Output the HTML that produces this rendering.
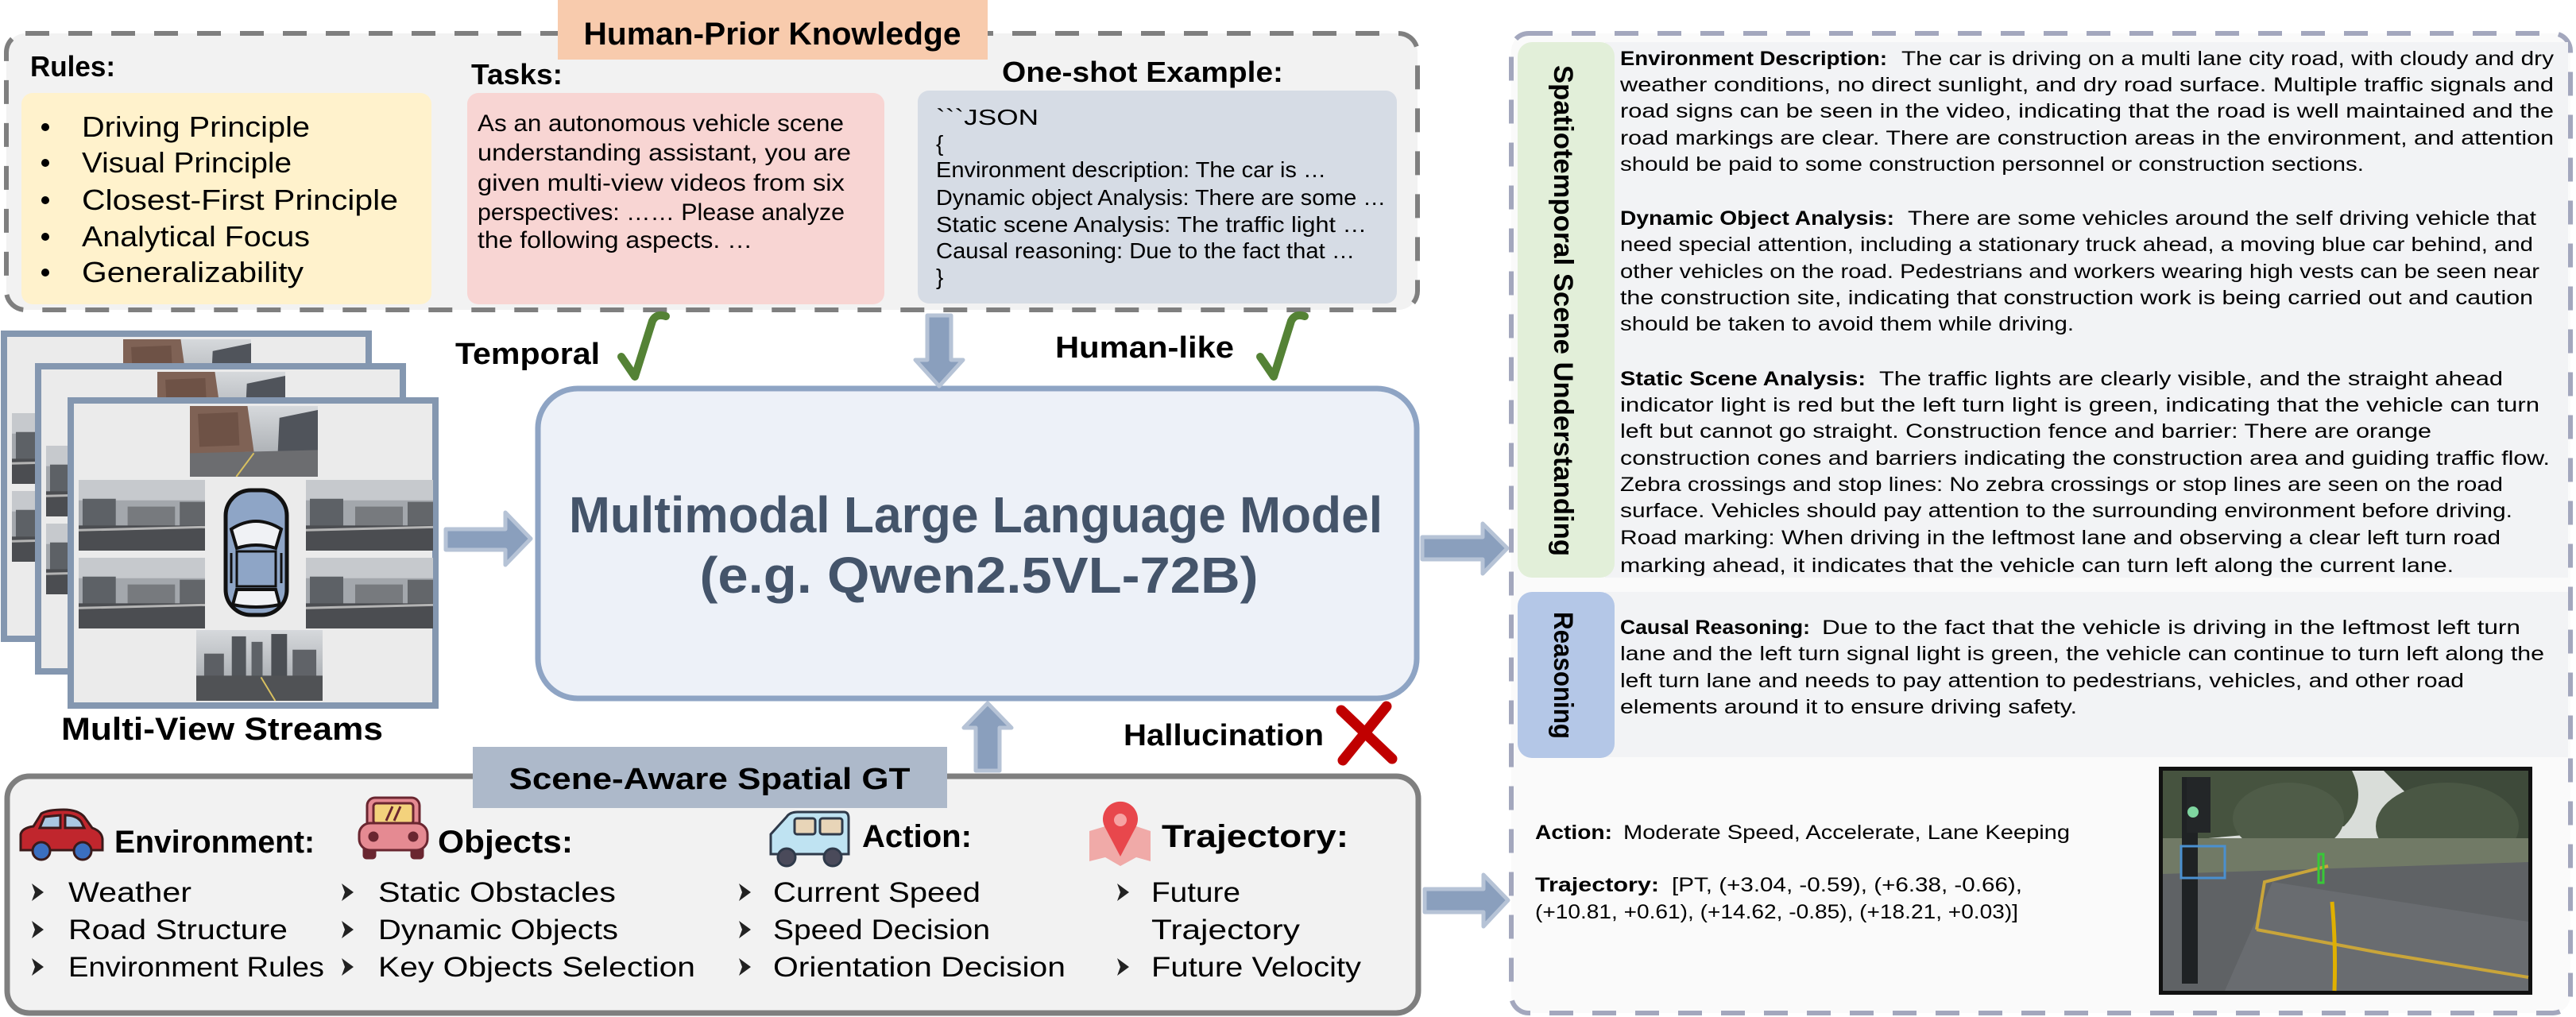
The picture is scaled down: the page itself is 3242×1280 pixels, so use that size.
<!DOCTYPE html>
<html><head><meta charset="utf-8">
<style>
html,body{margin:0;padding:0;background:#fff;}
svg{display:block;}
text{font-family:"Liberation Sans","DejaVu Sans",sans-serif;fill:#000;}
.b{font-weight:bold;}
</style></head><body>
<svg width="3242" height="1280" viewBox="0 0 3242 1280" xmlns="http://www.w3.org/2000/svg">
<defs>
  <linearGradient id="sky" x1="0" y1="0" x2="0" y2="1">
    <stop offset="0" stop-color="#d6d9dc"/><stop offset="1" stop-color="#9a9ea3"/>
  </linearGradient>
  <symbol id="p1" viewBox="0 0 160 90" preserveAspectRatio="none">
    <rect width="160" height="90" fill="url(#sky)"/>
    <polygon points="0,0 72,0 80,58 0,62" fill="#7f6255"/>
    <polygon points="10,10 60,8 62,50 12,52" fill="#6e5246"/>
    <polygon points="112,15 160,5 160,60 110,58" fill="#50545b"/>
    <polygon points="0,60 160,56 160,90 0,90" fill="#6c6d70"/>
    <polyline points="80,60 58,90" stroke="#d8c060" stroke-width="2" fill="none"/>
  </symbol>
  <symbol id="p2" viewBox="0 0 160 90" preserveAspectRatio="none">
    <rect width="160" height="90" fill="#a3a7ac"/>
    <rect width="160" height="26" fill="#c6c9cd"/>
    <rect x="5" y="24" width="42" height="36" fill="#5d6166"/>
    <rect x="62" y="34" width="60" height="26" fill="#777a7e"/>
    <rect x="128" y="28" width="32" height="32" fill="#63666a"/>
    <rect y="58" width="160" height="32" fill="#4b4d51"/>
    <line x1="0" y1="64" x2="160" y2="60" stroke="#b4b4b4" stroke-width="3"/>
  </symbol>
  <symbol id="p3" viewBox="0 0 160 90" preserveAspectRatio="none">
    <rect width="160" height="90" fill="url(#sky)"/>
    <rect x="10" y="30" width="25" height="30" fill="#5c5f64"/>
    <rect x="45" y="8" width="18" height="52" fill="#51555a"/>
    <rect x="70" y="15" width="14" height="45" fill="#5e6267"/>
    <rect x="95" y="5" width="20" height="55" fill="#4b4f54"/>
    <rect x="122" y="25" width="30" height="35" fill="#606368"/>
    <polygon points="0,58 160,58 160,90 0,90" fill="#505255"/>
    <polyline points="82,60 100,90" stroke="#d8c060" stroke-width="2" fill="none"/>
  </symbol>
  <g id="fr">
    <rect x="0" y="0" width="459" height="384" fill="#ebebeb" stroke="#8497b0" stroke-width="8"/>
    <use href="#p1" x="150" y="7" width="161" height="89"/>
    <use href="#p2" x="10" y="100" width="159" height="89"/>
    <use href="#p2" x="10" y="198" width="159" height="89"/>
    <use href="#p2" x="296" y="100" width="160" height="89"/>
    <use href="#p2" x="296" y="198" width="160" height="89"/>
    <use href="#p3" x="158" y="289" width="159" height="89"/>
    <g transform="translate(192,110)">
      <rect x="3" y="3" width="77" height="157" rx="32" fill="#8ea5c6" stroke="#111" stroke-width="5"/>
      <path d="M10,52 Q41,32 73,52 L66,76 Q41,68 17,76 Z" fill="#f0f2f5" stroke="#111" stroke-width="4"/>
      <path d="M17,80 L66,80 L66,124 L17,124 Z" fill="#8ea5c6" stroke="#111" stroke-width="3"/>
      <path d="M17,128 L66,128 L71,147 Q41,153 12,147 Z" fill="#f0f2f5" stroke="#111" stroke-width="4"/>
      <line x1="10" y1="82" x2="10" y2="120" stroke="#111" stroke-width="3"/>
      <line x1="73" y1="82" x2="73" y2="120" stroke="#111" stroke-width="3"/>
    </g>
  </g>
</defs>

<!-- ===== Top box: Human-Prior Knowledge ===== -->
<rect x="8" y="42" width="1776" height="348" rx="24" fill="#f2f2f2" stroke="#7f7f7f" stroke-width="6" stroke-dasharray="30 24"/>
<rect x="702" y="0" width="541" height="75" fill="#f8cbad"/>
<text class="b" x="972" y="56" font-size="40" text-anchor="middle" textLength="475" lengthAdjust="spacingAndGlyphs">Human-Prior Knowledge</text>

<text class="b" x="38" y="96" font-size="36" textLength="107" lengthAdjust="spacingAndGlyphs">Rules:</text>
<text class="b" x="593" y="106" font-size="36" textLength="115" lengthAdjust="spacingAndGlyphs">Tasks:</text>
<text class="b" x="1261" y="103" font-size="36" textLength="354" lengthAdjust="spacingAndGlyphs">One-shot Example:</text>

<rect x="27" y="117" width="516" height="266" rx="14" fill="#fff2cc"/>
<rect x="588" y="117" width="525" height="266" rx="14" fill="#f8d5d3"/>
<rect x="1155" y="114" width="603" height="268" rx="14" fill="#d6dce5"/>

<g font-size="36">
  <circle cx="57" cy="160" r="5"/><text x="103" y="172" textLength="287" lengthAdjust="spacingAndGlyphs">Driving Principle</text>
  <circle cx="57" cy="205" r="5"/><text x="103" y="217" textLength="264" lengthAdjust="spacingAndGlyphs">Visual Principle</text>
  <circle cx="57" cy="252" r="5"/><text x="103" y="264" textLength="398" lengthAdjust="spacingAndGlyphs">Closest-First Principle</text>
  <circle cx="57" cy="298" r="5"/><text x="103" y="310" textLength="287" lengthAdjust="spacingAndGlyphs">Analytical Focus</text>
  <circle cx="57" cy="343" r="5"/><text x="103" y="355" textLength="279" lengthAdjust="spacingAndGlyphs">Generalizability</text>
</g>

<g font-size="30">
  <text x="601" y="165" textLength="461" lengthAdjust="spacingAndGlyphs">As an autonomous vehicle scene</text>
  <text x="601" y="202" textLength="470" lengthAdjust="spacingAndGlyphs">understanding assistant, you are</text>
  <text x="601" y="240" textLength="462" lengthAdjust="spacingAndGlyphs">given multi-view videos from six</text>
  <text x="601" y="277" textLength="462" lengthAdjust="spacingAndGlyphs">perspectives: …… Please analyze</text>
  <text x="601" y="312" textLength="346" lengthAdjust="spacingAndGlyphs">the following aspects. …</text>
</g>

<g font-size="28">
  <text x="1178" y="157" textLength="129" lengthAdjust="spacingAndGlyphs">&#96;&#96;&#96;JSON</text>
  <text x="1178" y="190">{</text>
  <text x="1178" y="223" textLength="491" lengthAdjust="spacingAndGlyphs">Environment description: The car is …</text>
  <text x="1178" y="258" textLength="566" lengthAdjust="spacingAndGlyphs">Dynamic object Analysis: There are some …</text>
  <text x="1178" y="292" textLength="542" lengthAdjust="spacingAndGlyphs">Static scene Analysis: The traffic light …</text>
  <text x="1178" y="325" textLength="527" lengthAdjust="spacingAndGlyphs">Causal reasoning: Due to the fact that …</text>
  <text x="1178" y="358">}</text>
</g>

<!-- ===== Middle ===== -->
<use href="#fr" x="5" y="420"/>
<use href="#fr" x="48" y="461"/>
<use href="#fr" x="89" y="504"/>
<text class="b" x="77" y="931" font-size="40" textLength="405" lengthAdjust="spacingAndGlyphs">Multi-View Streams</text>

<text class="b" x="573" y="458" font-size="38" textLength="182" lengthAdjust="spacingAndGlyphs">Temporal</text>
<path d="M782,449 L799,474 L821,404 Q826,394 838,398" fill="none" stroke="#548235" stroke-width="10" stroke-linecap="round" stroke-linejoin="round"/>
<text class="b" x="1328" y="450" font-size="38" textLength="225" lengthAdjust="spacingAndGlyphs">Human-like</text>
<path d="M1586,449 L1603,474 L1625,404 Q1630,394 1642,398" fill="none" stroke="#548235" stroke-width="10" stroke-linecap="round" stroke-linejoin="round"/>

<rect x="677" y="489" width="1106" height="390" rx="50" fill="#edf1f8" stroke="#8ea4c4" stroke-width="7"/>
<text class="b" x="1228" y="670" font-size="64" style="fill:#44546a" text-anchor="middle" textLength="1024" lengthAdjust="spacingAndGlyphs">Multimodal Large Language Model</text>
<text class="b" x="1232" y="746" font-size="64" style="fill:#44546a" text-anchor="middle" textLength="703" lengthAdjust="spacingAndGlyphs">(e.g. Qwen2.5VL-72B)</text>

<g fill="#8a9fbd" stroke="#b6c3d6" stroke-width="5" stroke-linejoin="round">
  <polygon points="561,666 636,666 636,645 668,678 636,711 636,692 561,692"/>
  <polygon points="1790,676 1866,676 1866,659 1897,690 1866,722 1866,704 1790,704"/>
  <polygon points="1793,1119 1867,1119 1867,1101 1898,1133 1867,1166 1867,1148 1793,1148"/>
  <polygon points="1167,397 1197,397 1197,453 1212,453 1182,486 1152,453 1167,453"/>
  <polygon points="1228,970 1258,970 1258,916 1273,916 1243,885 1213,916 1228,916"/>
</g>

<text class="b" x="1414" y="938" font-size="38" textLength="252" lengthAdjust="spacingAndGlyphs">Hallucination</text>
<path d="M1745,889 L1690,957 M1688,894 L1752,955" stroke="#c00000" stroke-width="13" stroke-linecap="round" fill="none"/>

<!-- ===== Bottom GT box ===== -->
<rect x="9" y="977" width="1776" height="298" rx="28" fill="#f2f2f2" stroke="#7f7f7f" stroke-width="7"/>
<rect x="595" y="940" width="597" height="77" fill="#adb9ca"/>
<text class="b" x="893" y="993" font-size="38" text-anchor="middle" textLength="505" lengthAdjust="spacingAndGlyphs">Scene-Aware Spatial GT</text>

<!-- env icon: red car -->
<g stroke="#3a1a1a" stroke-width="3">
  <path d="M26,1070 L26,1050 Q28,1042 42,1040 L52,1024 Q60,1019 80,1019 Q98,1019 106,1028 L116,1042 Q128,1046 129,1056 L129,1070 Z" fill="#c0262d"/>
  <path d="M56,1028 L76,1026 L76,1042 L50,1042 Z" fill="#a9c8e2"/>
  <path d="M82,1026 Q96,1026 102,1034 L106,1042 L82,1042 Z" fill="#a9c8e2"/>
  <circle cx="52" cy="1071" r="11" fill="#3b6fc0"/>
  <circle cx="104" cy="1071" r="11" fill="#3b6fc0"/>
</g>
<text class="b" x="144" y="1073" font-size="40" textLength="252" lengthAdjust="spacingAndGlyphs">Environment:</text>

<!-- objects icon -->
<g stroke="#6a2630" stroke-width="3">
  <rect x="462" y="1004" width="66" height="40" rx="10" fill="#e58a92"/>
  <rect x="470" y="1011" width="50" height="26" rx="4" fill="#f3d27c"/>
  <line x1="486" y1="1033" x2="494" y2="1015"/>
  <line x1="496" y1="1033" x2="504" y2="1015"/>
  <rect x="458" y="1066" width="14" height="14" rx="3" fill="#6a2630"/>
  <rect x="518" y="1066" width="14" height="14" rx="3" fill="#6a2630"/>
  <rect x="452" y="1036" width="86" height="34" rx="14" fill="#e58a92"/>
  <circle cx="470" cy="1053" r="5" fill="#6a2630"/>
  <circle cx="520" cy="1053" r="5" fill="#6a2630"/>
</g>
<text class="b" x="551" y="1073" font-size="40" textLength="170" lengthAdjust="spacingAndGlyphs">Objects:</text>

<!-- action icon: van -->
<g stroke="#2f3a4a" stroke-width="3">
  <path d="M970,1075 L970,1050 L990,1028 Q994,1022 1004,1022 L1062,1022 Q1068,1022 1068,1030 L1068,1075 Z" fill="#bfe3f2"/>
  <rect x="1000" y="1030" width="26" height="20" rx="3" fill="#e8d5b8"/>
  <rect x="1032" y="1030" width="28" height="20" rx="3" fill="#e8d5b8"/>
  <circle cx="990" cy="1079" r="11" fill="#4a4a5a"/>
  <circle cx="1048" cy="1079" r="11" fill="#4a4a5a"/>
</g>
<text class="b" x="1085" y="1066" font-size="40" textLength="138" lengthAdjust="spacingAndGlyphs">Action:</text>

<!-- trajectory icon -->
<polygon points="1371,1046 1391,1040 1410,1050 1430,1040 1448,1046 1448,1084 1430,1079 1410,1090 1391,1079 1371,1084" fill="#f0aaa8"/>
<path d="M1410,1078 L1390,1040 A22,22 0 1 1 1430,1040 Z" fill="#e8474c"/>
<circle cx="1410" cy="1032" r="8" fill="#f6a3a3"/>
<text class="b" x="1462" y="1066" font-size="40" textLength="235" lengthAdjust="spacingAndGlyphs">Trajectory:</text>

<g fill="#222">
  <polygon points="40,1112 55,1123 40,1134 44,1123"/>
  <polygon points="40,1159 55,1170 40,1181 44,1170"/>
  <polygon points="40,1206 55,1217 40,1228 44,1217"/>
  <polygon points="430,1112 445,1123 430,1134 434,1123"/>
  <polygon points="430,1159 445,1170 430,1181 434,1170"/>
  <polygon points="430,1206 445,1217 430,1228 434,1217"/>
  <polygon points="930,1112 945,1123 930,1134 934,1123"/>
  <polygon points="930,1159 945,1170 930,1181 934,1170"/>
  <polygon points="930,1206 945,1217 930,1228 934,1217"/>
  <polygon points="1406,1112 1421,1123 1406,1134 1410,1123"/>
  <polygon points="1406,1206 1421,1217 1406,1228 1410,1217"/>
</g>
<g font-size="35">
  <text x="86" y="1135" textLength="155" lengthAdjust="spacingAndGlyphs">Weather</text>
  <text x="86" y="1182" textLength="276" lengthAdjust="spacingAndGlyphs">Road Structure</text>
  <text x="86" y="1229" textLength="322" lengthAdjust="spacingAndGlyphs">Environment Rules</text>
  <text x="476" y="1135" textLength="299" lengthAdjust="spacingAndGlyphs">Static Obstacles</text>
  <text x="476" y="1182" textLength="302" lengthAdjust="spacingAndGlyphs">Dynamic Objects</text>
  <text x="476" y="1229" textLength="399" lengthAdjust="spacingAndGlyphs">Key Objects Selection</text>
  <text x="973" y="1135" textLength="261" lengthAdjust="spacingAndGlyphs">Current Speed</text>
  <text x="973" y="1182" textLength="273" lengthAdjust="spacingAndGlyphs">Speed Decision</text>
  <text x="973" y="1229" textLength="368" lengthAdjust="spacingAndGlyphs">Orientation Decision</text>
  <text x="1449" y="1135" textLength="112" lengthAdjust="spacingAndGlyphs">Future</text>
  <text x="1449" y="1182" textLength="187" lengthAdjust="spacingAndGlyphs">Trajectory</text>
  <text x="1449" y="1229" textLength="264" lengthAdjust="spacingAndGlyphs">Future Velocity</text>
</g>

<!-- ===== Right panel ===== -->
<rect x="1902" y="42" width="1333" height="1233" rx="22" fill="#fafafa" stroke="#a3a7bd" stroke-width="6" stroke-dasharray="30 24"/>
<rect x="2020" y="53" width="1212" height="674" fill="#f2f3f5"/>
<rect x="2020" y="745" width="1212" height="208" fill="#f2f3f5"/>
<rect x="1910" y="53" width="122" height="674" rx="18" fill="#e2efd9"/>
<rect x="1910" y="745" width="122" height="209" rx="18" fill="#b4c7e7"/>
<text class="b" transform="translate(1967,391) rotate(90)" font-size="34" text-anchor="middle" dominant-baseline="central" textLength="618" lengthAdjust="spacingAndGlyphs">Spatiotemporal Scene Understanding</text>
<text class="b" transform="translate(1967,850) rotate(90)" font-size="34" text-anchor="middle" dominant-baseline="central" textLength="160" lengthAdjust="spacingAndGlyphs">Reasoning</text>

<g font-size="25">
  <text class="b" x="2039" y="82" textLength="336" lengthAdjust="spacingAndGlyphs">Environment Description:</text>
  <text x="2393" y="82" textLength="821" lengthAdjust="spacingAndGlyphs">The car is driving on a multi lane city road, with cloudy and dry</text>
  <text x="2039" y="115" textLength="1175" lengthAdjust="spacingAndGlyphs">weather conditions, no direct sunlight, and dry road surface. Multiple traffic signals and</text>
  <text x="2039" y="148" textLength="1175" lengthAdjust="spacingAndGlyphs">road signs can be seen in the video, indicating that the road is well maintained and the</text>
  <text x="2039" y="182" textLength="1175" lengthAdjust="spacingAndGlyphs">road markings are clear. There are construction areas in the environment, and attention</text>
  <text x="2039" y="215" textLength="936" lengthAdjust="spacingAndGlyphs">should be paid to some construction personnel or construction sections.</text>

  <text class="b" x="2039" y="283" textLength="345" lengthAdjust="spacingAndGlyphs">Dynamic Object Analysis:</text>
  <text x="2401" y="283" textLength="791" lengthAdjust="spacingAndGlyphs">There are some vehicles around the self driving vehicle that</text>
  <text x="2039" y="316" textLength="1149" lengthAdjust="spacingAndGlyphs">need special attention, including a stationary truck ahead, a moving blue car behind, and</text>
  <text x="2039" y="350" textLength="1157" lengthAdjust="spacingAndGlyphs">other vehicles on the road. Pedestrians and workers wearing high vests can be seen near</text>
  <text x="2039" y="383" textLength="1149" lengthAdjust="spacingAndGlyphs">the construction site, indicating that construction work is being carried out and caution</text>
  <text x="2039" y="416" textLength="571" lengthAdjust="spacingAndGlyphs">should be taken to avoid them while driving.</text>

  <text class="b" x="2039" y="485" textLength="309" lengthAdjust="spacingAndGlyphs">Static Scene Analysis:</text>
  <text x="2365" y="485" textLength="785" lengthAdjust="spacingAndGlyphs">The traffic lights are clearly visible, and the straight ahead</text>
  <text x="2039" y="518" textLength="1157" lengthAdjust="spacingAndGlyphs">indicator light is red but the left turn light is green, indicating that the vehicle can turn</text>
  <text x="2039" y="551" textLength="1021" lengthAdjust="spacingAndGlyphs">left but cannot go straight. Construction fence and barrier: There are orange</text>
  <text x="2039" y="585" textLength="1170" lengthAdjust="spacingAndGlyphs">construction cones and barriers indicating the construction area and guiding traffic flow.</text>
  <text x="2039" y="618" textLength="1111" lengthAdjust="spacingAndGlyphs">Zebra crossings and stop lines: No zebra crossings or stop lines are seen on the road</text>
  <text x="2039" y="651" textLength="1123" lengthAdjust="spacingAndGlyphs">surface. Vehicles should pay attention to the surrounding environment before driving.</text>
  <text x="2039" y="685" textLength="1108" lengthAdjust="spacingAndGlyphs">Road marking: When driving in the leftmost lane and observing a clear left turn road</text>
  <text x="2039" y="720" textLength="1049" lengthAdjust="spacingAndGlyphs">marking ahead, it indicates that the vehicle can turn left along the current lane.</text>

  <text class="b" x="2039" y="798" textLength="239" lengthAdjust="spacingAndGlyphs">Causal Reasoning:</text>
  <text x="2293" y="798" textLength="879" lengthAdjust="spacingAndGlyphs">Due to the fact that the vehicle is driving in the leftmost left turn</text>
  <text x="2039" y="831" textLength="1163" lengthAdjust="spacingAndGlyphs">lane and the left turn signal light is green, the vehicle can continue to turn left along the</text>
  <text x="2039" y="865" textLength="1062" lengthAdjust="spacingAndGlyphs">left turn lane and needs to pay attention to pedestrians, vehicles, and other road</text>
  <text x="2039" y="898" textLength="575" lengthAdjust="spacingAndGlyphs">elements around it to ensure driving safety.</text>

  <text class="b" x="1932" y="1056" textLength="97" lengthAdjust="spacingAndGlyphs">Action:</text>
  <text x="2043" y="1056" textLength="562" lengthAdjust="spacingAndGlyphs">Moderate Speed, Accelerate, Lane Keeping</text>
  <text class="b" x="1932" y="1122" textLength="156" lengthAdjust="spacingAndGlyphs">Trajectory:</text>
  <text x="2104" y="1122" textLength="441" lengthAdjust="spacingAndGlyphs">[PT, (+3.04, -0.59), (+6.38, -0.66),</text>
  <text x="1932" y="1156" textLength="608" lengthAdjust="spacingAndGlyphs">(+10.81, +0.61), (+14.62, -0.85), (+18.21, +0.03)]</text>
</g>

<!-- driving photo -->
<g>
  <rect x="2717" y="965" width="470" height="287" fill="#111"/>
  <rect x="2722" y="970" width="460" height="277" fill="#d9ddd9"/>
  <path d="M2722,970 L2960,970 Q2980,1010 2950,1040 L2722,1060 Z" fill="#46533f"/>
  <path d="M3000,970 L3182,970 L3182,1100 L3040,1090 Q3010,1040 3030,1000 Z" fill="#3e4a3a"/>
  <ellipse cx="2880" cy="1030" rx="70" ry="45" fill="#4f5c48"/>
  <ellipse cx="3080" cy="1040" rx="90" ry="55" fill="#4a5744"/>
  <rect x="2722" y="1055" width="460" height="55" fill="#717a66"/>
  <polygon points="2722,1100 3182,1085 3182,1247 2722,1247" fill="#5f6265"/>
  <polygon points="2800,1247 2860,1110 3182,1160 3182,1247" fill="#696c70"/>
  <polyline points="2840,1170 2850,1110 2930,1090" fill="none" stroke="#c9a53a" stroke-width="4"/>
  <polyline points="2840,1170 3000,1200 3182,1230" fill="none" stroke="#c9a53a" stroke-width="4"/>
  <path d="M2935,1135 Q2940,1190 2938,1247" fill="none" stroke="#e0b000" stroke-width="5"/>
  <rect x="2746" y="978" width="20" height="260" fill="#1f2224"/>
  <rect x="2752" y="978" width="30" height="70" fill="#232628"/>
  <circle cx="2760" cy="1022" r="7" fill="#7fd6a0"/>
  <rect x="2745" y="1065" width="55" height="40" fill="none" stroke="#4a90d0" stroke-width="3"/>
  <rect x="2918" y="1075" width="6" height="36" fill="none" stroke="#38c838" stroke-width="3"/>
</g>
</svg>
</body></html>
